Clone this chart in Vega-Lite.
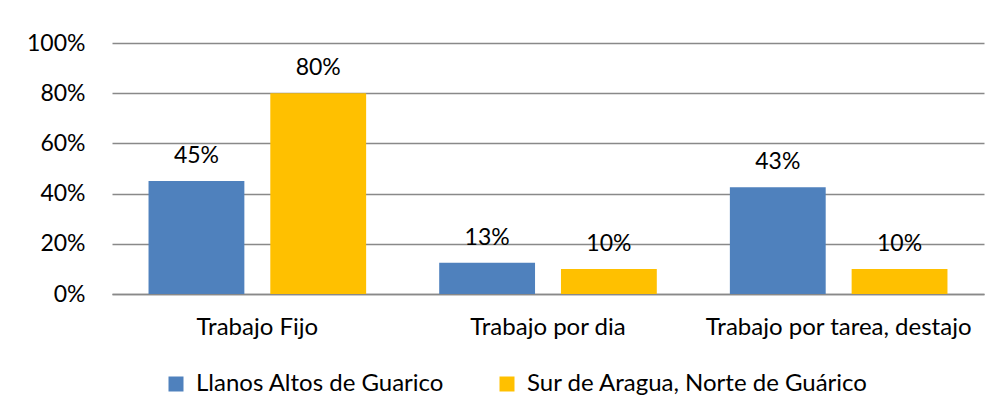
{
  "$schema": "https://vega.github.io/schema/vega-lite/v6.json",
  "autosize": {"type": "none"},
  "padding": {"left": 112, "top": 43, "right": 14, "bottom": 122},
  "width": 872,
  "height": 251,
  "background": "white",
  "config": {
    "view": {"stroke": null},
    "font": "Lato",
    "text": {"font": "Lato"}
  },
  "data": {
    "values": [
      {"cat": "Trabajo Fijo", "serie": "Llanos Altos de Guarico", "valor": 0.45},
      {"cat": "Trabajo Fijo", "serie": "Sur de Aragua, Norte de Guárico", "valor": 0.80},
      {"cat": "Trabajo por dia", "serie": "Llanos Altos de Guarico", "valor": 0.125},
      {"cat": "Trabajo por dia", "serie": "Sur de Aragua, Norte de Guárico", "valor": 0.10},
      {"cat": "Trabajo por tarea, destajo", "serie": "Llanos Altos de Guarico", "valor": 0.425},
      {"cat": "Trabajo por tarea, destajo", "serie": "Sur de Aragua, Norte de Guárico", "valor": 0.10}
    ]
  },
  "encoding": {
    "x": {
      "field": "cat", "type": "nominal", "sort": null,
      "scale": {"paddingInner": 0, "paddingOuter": 0},
      "axis": {
        "title": null, "labelAngle": 0, "ticks": false, "labelLimit": 0,
        "domainColor": "#898989", "domainWidth": 1.3,
        "labelFont": "Lato", "labelFontSize": 24, "labelColor": "#000000",
        "labelPadding": 21
      }
    },
    "xOffset": {
      "field": "serie", "type": "nominal", "sort": null,
      "scale": {"paddingInner": 0.213, "paddingOuter": 0.3}
    },
    "y": {
      "field": "valor", "type": "quantitative",
      "scale": {"domain": [0, 1], "nice": false},
      "axis": {
        "title": null, "format": ".0%", "values": [0, 0.2, 0.4, 0.6, 0.8, 1],
        "domain": false, "ticks": false,
        "gridColor": "#898989", "gridWidth": 1.3,
        "labelFont": "Lato", "labelFontSize": 23, "labelColor": "#000000",
        "labelPadding": 27
      }
    }
  },
  "layer": [
    {
      "mark": {"type": "bar"},
      "encoding": {
        "color": {
          "field": "serie", "type": "nominal", "sort": null,
          "scale": {"range": ["#4F81BD", "#FFC000"]},
          "legend": {
            "title": null, "orient": "none", "direction": "horizontal",
            "legendX": 52, "legendY": 329, "labelLimit": 0,
            "symbolType": "square", "symbolSize": 225, "symbolStrokeWidth": 0,
            "labelFont": "Lato", "labelFontSize": 24, "labelColor": "#000000",
            "labelOffset": 8, "columnPadding": 50, "padding": 0
          }
        }
      }
    },
    {
      "mark": {"type": "text", "baseline": "alphabetic", "dy": -18, "fontSize": 23, "font": "Lato", "color": "#000000"},
      "encoding": {
        "text": {"field": "valor", "type": "quantitative", "format": ".0%"}
      }
    }
  ]
}
